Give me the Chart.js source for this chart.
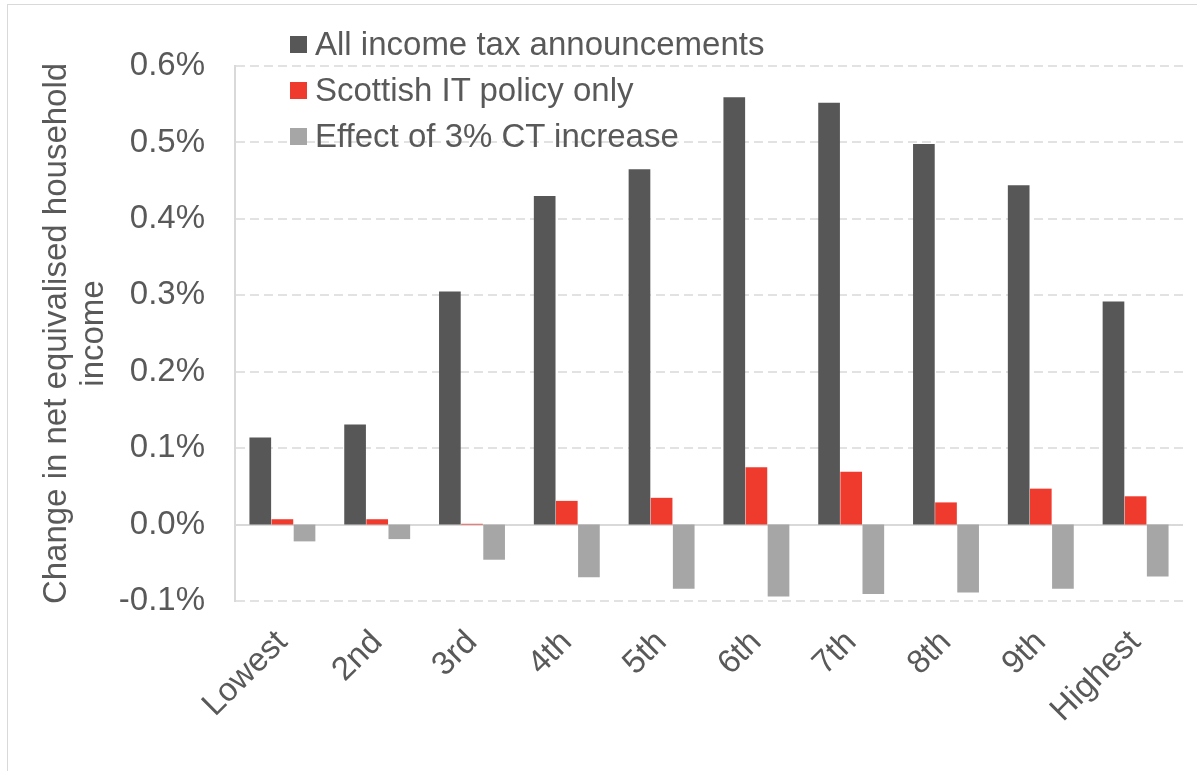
<!DOCTYPE html>
<html lang="en">
<head>
    <meta charset="UTF-8">
    <title>Change in net equivalised household income by decile</title>
    <style>
        body { margin: 0; background: #fff; overflow: hidden; }
        .wrap { position: relative; width: 1197px; height: 771px; }
        .frame {
            position: absolute; left: 7px; top: 4px; width: 1200px; height: 780px;
            border-left: 1px solid #d9d9d9; border-top: 1px solid #d9d9d9;
        }
        #legend {
            position: absolute; left: 290px; top: 21px;
            font-family: "Liberation Sans", Arial, sans-serif; font-size: 33px; color: #595959;
        }
        #legend div { display: flex; align-items: center; height: 46px; white-space: nowrap; }
        #legend span.box { width: 17px; height: 17px; margin-right: 8px; }
    </style>
</head>
<body>
    <div class="wrap">
        <div class="frame"></div>
        <canvas id="chart" width="1197" height="771"></canvas>
        <div id="legend"></div>
    </div>

    <script src="https://cdn.jsdelivr.net/npm/chart.js"></script>
    <script>
        // income deciles
        const categories = ['Lowest', '2nd', '3rd', '4th', '5th', '6th', '7th', '8th', '9th', 'Highest'];

        // % change in net equivalised household income
        const allIncomeTax = [0.114, 0.131, 0.305, 0.430, 0.465, 0.559, 0.552, 0.498, 0.444, 0.292];
        const scottishIT = [0.007, 0.007, 0.001, 0.031, 0.035, 0.075, 0.069, 0.029, 0.047, 0.037];
        const ctIncrease = [-0.022, -0.019, -0.046, -0.069, -0.084, -0.094, -0.091, -0.089, -0.084, -0.068];

        const seriesNames = ['All income tax announcements', 'Scottish IT policy only', 'Effect of 3% CT increase'];
        const seriesColors = ['#575757', '#ef3b2d', '#a6a6a6'];

        const yTitle = ['Change in net equivalised household', 'income'];

        const textColor = '#595959';
        const font = { family: '"Liberation Sans", Arial, sans-serif', size: 33 };

        Chart.defaults.font.family = font.family;
        Chart.defaults.color = textColor;

        // ticks come out as 1e-17 etc, treat those as the zero line
        const isZero = (c) => c.tick && Math.abs(c.tick.value) < 1e-9;

        const ctx = document.getElementById('chart').getContext('2d');
        const chart = new Chart(ctx, {
            type: 'bar',
            data: {
                labels: categories,
                datasets: [allIncomeTax, scottishIT, ctIncrease].map((data, i) => ({
                    label: seriesNames[i],
                    data: data,
                    backgroundColor: seriesColors[i],
                    categoryPercentage: 0.7,
                    barPercentage: 0.98
                }))
            },
            options: {
                responsive: false,
                animation: false,
                devicePixelRatio: 1,
                layout: { padding: { left: 0, top: 66, right: 14, bottom: 0 } },
                plugins: {
                    legend: { display: false },
                    tooltip: { enabled: false }
                },
                scales: {
                    x: {
                        grid: { display: false },
                        border: { display: false },
                        ticks: {
                            font: font,
                            color: textColor,
                            minRotation: 45,
                            maxRotation: 45,
                            padding: 14
                        },
                        afterFit: (scale) => { scale.height = 170; }
                    },
                    y: {
                        min: -0.1,
                        max: 0.6,
                        grid: {
                            drawTicks: false,
                            color: (c) => isZero(c) ? '#d9d9d9' : '#e2e2e2',
                            lineWidth: 2
                        },
                        border: {
                            display: true,
                            color: '#d9d9d9',
                            width: 2,
                            dash: (c) => c.tick && !isZero(c) ? [9, 5] : []
                        },
                        ticks: {
                            stepSize: 0.1,
                            padding: 30,
                            font: font,
                            color: textColor,
                            callback: (v) => (Math.abs(v) < 1e-9 ? 0 : v).toFixed(1) + '%'
                        },
                        title: {
                            display: true,
                            text: yTitle,
                            font: { family: font.family, size: 33, lineHeight: 1.1 },
                            color: textColor,
                            padding: { top: 39, bottom: 0 }
                        },
                        afterFit: (scale) => { scale.width = 235; }
                    }
                }
            }
        });

        // legend drawn as html, stacked in the top-left of the plot
        const legend = document.getElementById('legend');
        seriesNames.forEach((name, i) => {
            const row = document.createElement('div');
            const box = document.createElement('span');
            box.className = 'box';
            box.style.background = seriesColors[i];
            row.appendChild(box);
            row.appendChild(document.createTextNode(name));
            legend.appendChild(row);
        });
    </script>
</body>
</html>
